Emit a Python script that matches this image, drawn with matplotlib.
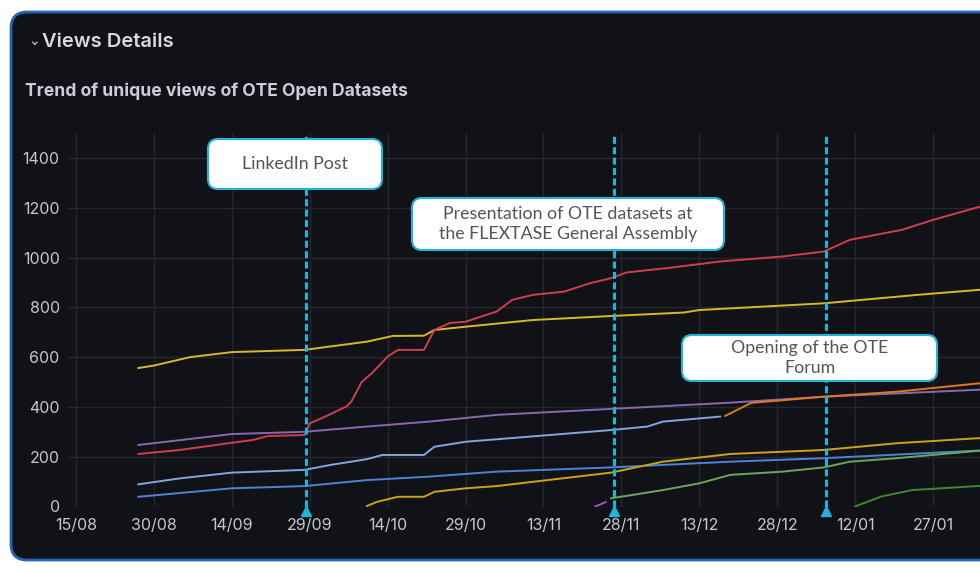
import matplotlib
matplotlib.use("Agg")
import matplotlib.pyplot as plt
import matplotlib.dates as mdates
from matplotlib.patches import FancyBboxPatch
from matplotlib.transforms import IdentityTransform
import pandas as pd

plt.rcParams['font.family'] = ['Inter', 'DejaVu Sans']

# x axis ticks (every 15 days) and y ticks
tick_dates = ['2024-08-15', '2024-08-30', '2024-09-14', '2024-09-29', '2024-10-14', '2024-10-29',
              '2024-11-13', '2024-11-28', '2024-12-13', '2024-12-28', '2025-01-12', '2025-01-27']
y_ticks = [0, 200, 400, 600, 800, 1000, 1200, 1400]

# annotations
event_dates = ['2024-09-28 08:00', '2024-11-26 14:00', '2025-01-06 10:00']
event_labels = ['LinkedIn Post',
                'Presentation of OTE datasets at\nthe FLEXTASE General Assembly',
                'Opening of the OTE\nForum']

# series
yellow_dates = ['2024-08-27', '2024-08-30', '2024-09-06', '2024-09-14', '2024-09-28', '2024-10-10',
                '2024-10-15', '2024-10-21', '2024-10-23', '2024-10-29', '2024-11-11', '2024-11-26',
                '2024-12-10', '2024-12-13', '2025-01-06', '2025-01-24', '2025-02-06']
yellow_vals = [556, 566, 600, 620, 629, 662, 685, 686, 709, 722, 749, 765, 779, 789, 816, 850, 872]

red_dates = ['2024-08-27', '2024-09-04', '2024-09-14', '2024-09-18', '2024-09-21', '2024-09-28',
             '2024-09-29', '2024-10-02', '2024-10-06', '2024-10-07', '2024-10-09', '2024-10-11',
             '2024-10-14', '2024-10-16', '2024-10-21', '2024-10-23', '2024-10-26', '2024-10-29',
             '2024-11-01', '2024-11-04', '2024-11-07', '2024-11-11', '2024-11-17', '2024-11-22',
             '2024-11-26', '2024-11-29', '2024-12-07', '2024-12-17', '2024-12-29', '2025-01-06',
             '2025-01-11', '2025-01-21', '2025-01-27', '2025-02-06']
red_vals = [211, 227, 256, 267, 283, 287, 334, 361, 401, 421, 500, 536, 602, 629, 629, 709, 737, 742,
            763, 783, 830, 850, 863, 897, 917, 940, 958, 984, 1004, 1024, 1071, 1111, 1151, 1210]

purple_dates = ['2024-08-27', '2024-09-14', '2024-09-28', '2024-10-10', '2024-10-22', '2024-11-04',
                '2024-11-26', '2024-12-19', '2025-01-06', '2025-02-06']
purple_vals = [247, 291, 300, 321, 341, 368, 392, 417, 441, 470]

lightblue_dates = ['2024-08-27', '2024-09-04', '2024-09-14', '2024-09-28', '2024-10-03', '2024-10-10',
                   '2024-10-13', '2024-10-21', '2024-10-23', '2024-10-29', '2024-11-04', '2024-11-26',
                   '2024-12-03', '2024-12-06', '2024-12-17']
lightblue_vals = [89, 113, 136, 147, 167, 190, 207, 207, 240, 260, 270, 307, 321, 341, 361]

orange_dates = ['2024-12-18', '2024-12-23', '2025-01-06', '2025-01-20', '2025-02-06']
orange_vals = [364, 416, 441, 461, 497]

blue_dates = ['2024-08-27', '2024-09-14', '2024-09-28', '2024-10-10', '2024-10-22', '2024-11-04',
              '2024-11-26', '2024-12-19', '2025-01-06', '2025-02-06']
blue_vals = [39, 73, 82, 106, 120, 140, 157, 180, 194, 226]

gold_dates = ['2024-10-10', '2024-10-12', '2024-10-16', '2024-10-21', '2024-10-23', '2024-10-29',
              '2024-11-04', '2024-11-26', '2024-12-06', '2024-12-19', '2025-01-06', '2025-01-20',
              '2025-02-06']
gold_vals = [2, 19, 39, 39, 59, 73, 82, 136, 180, 211, 227, 254, 276]

violet_dates = ['2024-11-23', '2024-11-25']
violet_vals = [0, 18]

green_dates = ['2024-11-26', '2024-11-30', '2024-12-06', '2024-12-13', '2024-12-19', '2024-12-29',
               '2025-01-06', '2025-01-11', '2025-01-20', '2025-02-06']
green_vals = [33, 46, 66, 93, 127, 140, 157, 180, 194, 226]

darkgreen_dates = ['2025-01-12', '2025-01-17', '2025-01-23', '2025-02-06']
darkgreen_vals = [0, 40, 66, 84]

series = [
    (yellow_dates, yellow_vals, '#d4bb25'),
    (red_dates, red_vals, '#cf3e4f'),
    (purple_dates, purple_vals, '#8a68b0'),
    (lightblue_dates, lightblue_vals, '#7fa7de'),
    (orange_dates, orange_vals, '#e0781f'),
    (blue_dates, blue_vals, '#4d83d6'),
    (gold_dates, gold_vals, '#c9a418'),
    (violet_dates, violet_vals, '#a552c4'),
    (green_dates, green_vals, '#68a858'),
    (darkgreen_dates, darkgreen_vals, '#3d8a2d'),
]

W, H = 980, 573
px = IdentityTransform()
cyan = '#1db6d9'
bg = '#111217'

fig = plt.figure(figsize=(W / 100, H / 100), dpi=100, facecolor='white')

# dark panel
panel = FancyBboxPatch((11, H - 560), 1000, 548, boxstyle='round,pad=0,rounding_size=16',
                       transform=px, facecolor=bg, edgecolor='#2466b8', lw=2, zorder=-5)
fig.patches.append(panel)

fig.text(28, H - 41, '⌄', transform=px, color='#ccccdc', fontsize=10, va='center',
         family=['DejaVu Sans'])
fig.text(42, H - 42, 'Views Details', transform=px, color='#d8d9da', fontsize=14.5,
         fontweight='semibold', va='center')
fig.text(25, H - 91, 'Trend of unique views of OTE Open Datasets', transform=px,
         color='#ccccdc', fontsize=12.6, fontweight='bold', va='center')

ax = fig.add_axes([68 / W, (H - 506.5) / H, (W - 68) / W, (506.5 - 133) / H])
ax.patch.set_alpha(0)

base = pd.Timestamp('2024-08-15')
ax.set_xlim(base - pd.Timedelta(days=8 / 5.194), base + pd.Timedelta(days=(W - 76) / 5.194))
ax.set_ylim(0, 1500)

for d, v, c in series:
    ax.plot(pd.to_datetime(d), v, color=c, lw=1.4, solid_joinstyle='round')

ax.set_xticks(pd.to_datetime(tick_dates))
ax.xaxis.set_major_formatter(mdates.DateFormatter('%d/%m'))
ax.set_yticks(y_ticks)
ax.grid(True, color='#25272d', lw=1)
ax.set_axisbelow(True)
for s in ax.spines.values():
    s.set_visible(False)
ax.tick_params(length=0, colors='#c6c7cc', labelsize=11.5)
ax.tick_params(axis='x', pad=8)
ax.tick_params(axis='y', pad=6)

for d in pd.to_datetime(event_dates):
    ax.axvline(d, color=cyan, lw=2.2, linestyle=(0, (2.3, 1.1)), zorder=5)
    ax.plot([d], [-0.013], marker='^', ms=7, color=cyan, transform=ax.get_xaxis_transform(),
            clip_on=False, zorder=6)

# annotation boxes (pixel rects: left, top, width, height)
boxes = [(208, 139, 174, 50), (412, 198, 312, 52), (682, 335, 255, 46)]
for (bx, by, bw, bh), label in zip(boxes, event_labels):
    box = FancyBboxPatch((bx, H - by - bh), bw, bh, boxstyle='round,pad=0,rounding_size=10',
                         transform=px, facecolor='white', edgecolor=cyan, lw=1.5, zorder=10)
    fig.patches.append(box)
    fig.text(bx + bw / 2, H - by - bh / 2, label, transform=px, ha='center', va='center',
             color='#555555', fontsize=12.8, family=['Lato', 'DejaVu Sans'],
             linespacing=1.35, zorder=11)

fig.savefig('out.png', dpi=100, facecolor='white')
